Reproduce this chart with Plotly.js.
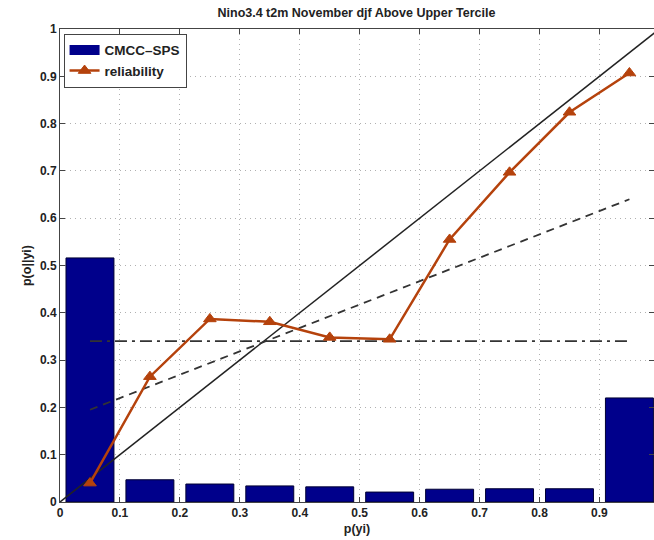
<!DOCTYPE html>
<html>
<head>
<meta charset="utf-8">
<script src="https://cdn.plot.ly/plotly-3.0.1.min.js"></script>
<style>html,body{margin:0;padding:0;background:#fff;}#chart{width:654px;height:540px;}</style>
</head>
<body>
<div id="chart"></div>
<script>
const binCenters = [0.05, 0.15, 0.25, 0.35, 0.45, 0.55, 0.65, 0.75, 0.85, 0.95];
const forecastFreq = [0.516, 0.047, 0.038, 0.034, 0.032, 0.021, 0.027, 0.028, 0.028, 0.22];
const reliability = [0.04, 0.265, 0.387, 0.381, 0.348, 0.344, 0.555, 0.697, 0.824, 0.907];
const fitX = [0.05, 0.95];
const fitY = [0.195, 0.64];
const climX = [0.05, 0.95];
const climY = [0.34, 0.34];
const diagX = [0, 1];
const diagY = [0, 1];
const xTicks = [0, 0.1, 0.2, 0.3, 0.4, 0.5, 0.6, 0.7, 0.8, 0.9];
const xTickText = ['0', '0.1', '0.2', '0.3', '0.4', '0.5', '0.6', '0.7', '0.8', '0.9'];
const yTicks = [0, 0.1, 0.2, 0.3, 0.4, 0.5, 0.6, 0.7, 0.8, 0.9, 1];
const yTickText = ['0', '0.1', '0.2', '0.3', '0.4', '0.5', '0.6', '0.7', '0.8', '0.9', '1'];

const FONT = 'Liberation Sans, Arial, Helvetica, sans-serif';
const relColor = '#b5420c';
const barColor = '#00008b';

const traces = [
  {
    type: 'bar', x: binCenters, y: forecastFreq, width: 0.08, name: 'CMCC\u2013SPS',
    marker: {color: barColor, line: {color: '#000033', width: 1}},
    showlegend: false, legendrank: 1
  },
  {
    // legend swatch for the bar series (wide rectangle, as in the original)
    type: 'scatter', mode: 'lines', x: [null], y: [null], name: 'CMCC\u2013SPS',
    line: {color: barColor, width: 13}, showlegend: true, legendrank: 1, hoverinfo: 'skip'
  },
  {
    type: 'scatter', mode: 'lines', x: diagX, y: diagY, showlegend: false,
    line: {color: '#222', width: 1.5}, hoverinfo: 'skip'
  },
  {
    type: 'scatter', mode: 'lines', x: fitX, y: fitY, showlegend: false,
    line: {color: '#333', width: 1.8, dash: '8px,6px'}, hoverinfo: 'skip'
  },
  {
    type: 'scatter', mode: 'lines', x: climX, y: climY, showlegend: false,
    line: {color: '#333', width: 1.8, dash: '12px,5px,3px,5px'}, hoverinfo: 'skip'
  },
  {
    type: 'scatter', mode: 'lines+markers', x: binCenters, y: reliability, name: 'reliability',
    line: {color: relColor, width: 2.5}, legendrank: 2,
    marker: {symbol: 'triangle-up', size: 11, color: relColor, line: {color: relColor, width: 1}}
  }
];

const axisCommon = {
  showline: true, linecolor: '#444', linewidth: 1, mirror: 'ticks',
  ticks: 'inside', ticklen: 5, tickcolor: '#444',
  showgrid: true, gridcolor: '#b0b0b0', griddash: '1px,4px', gridwidth: 1,
  zeroline: false,
  tickfont: {family: FONT, size: 12, color: '#222', weight: 'bold'}
};

const layout = {
  width: 654, height: 540,
  margin: {l: 60, r: 0, t: 29, b: 38, pad: 0},
  paper_bgcolor: '#fff', plot_bgcolor: '#fff',
  title: {
    text: 'Nino3.4 t2m November djf Above Upper Tercile',
    font: {family: FONT, size: 12.5, color: '#222', weight: 'bold'},
    x: 0.545, xanchor: 'center', y: 0.985, yanchor: 'top'
  },
  xaxis: Object.assign({}, axisCommon, {
    range: [0, 0.991], tickvals: xTicks, ticktext: xTickText,
    title: {text: 'p(yi)', font: {family: FONT, size: 12.5, color: '#222', weight: 'bold'}, standoff: 4}
  }),
  yaxis: Object.assign({}, axisCommon, {
    range: [0, 1], tickvals: yTicks, ticktext: yTickText,
    title: {text: 'p(o||yi)', font: {family: FONT, size: 12.5, color: '#222', weight: 'bold'}, standoff: 5}
  }),
  showlegend: true,
  legend: {
    x: 0.006, y: 0.99, xanchor: 'left', yanchor: 'top',
    bgcolor: '#fff', bordercolor: '#444', borderwidth: 1,
    font: {family: FONT, size: 13.5, color: '#222', weight: 'bold'},
    tracegroupgap: 0, traceorder: 'normal'
  },
  bargap: 0
};

Plotly.newPlot('chart', traces, layout, {displayModeBar: false, staticPlot: true});
</script>
</body>
</html>
